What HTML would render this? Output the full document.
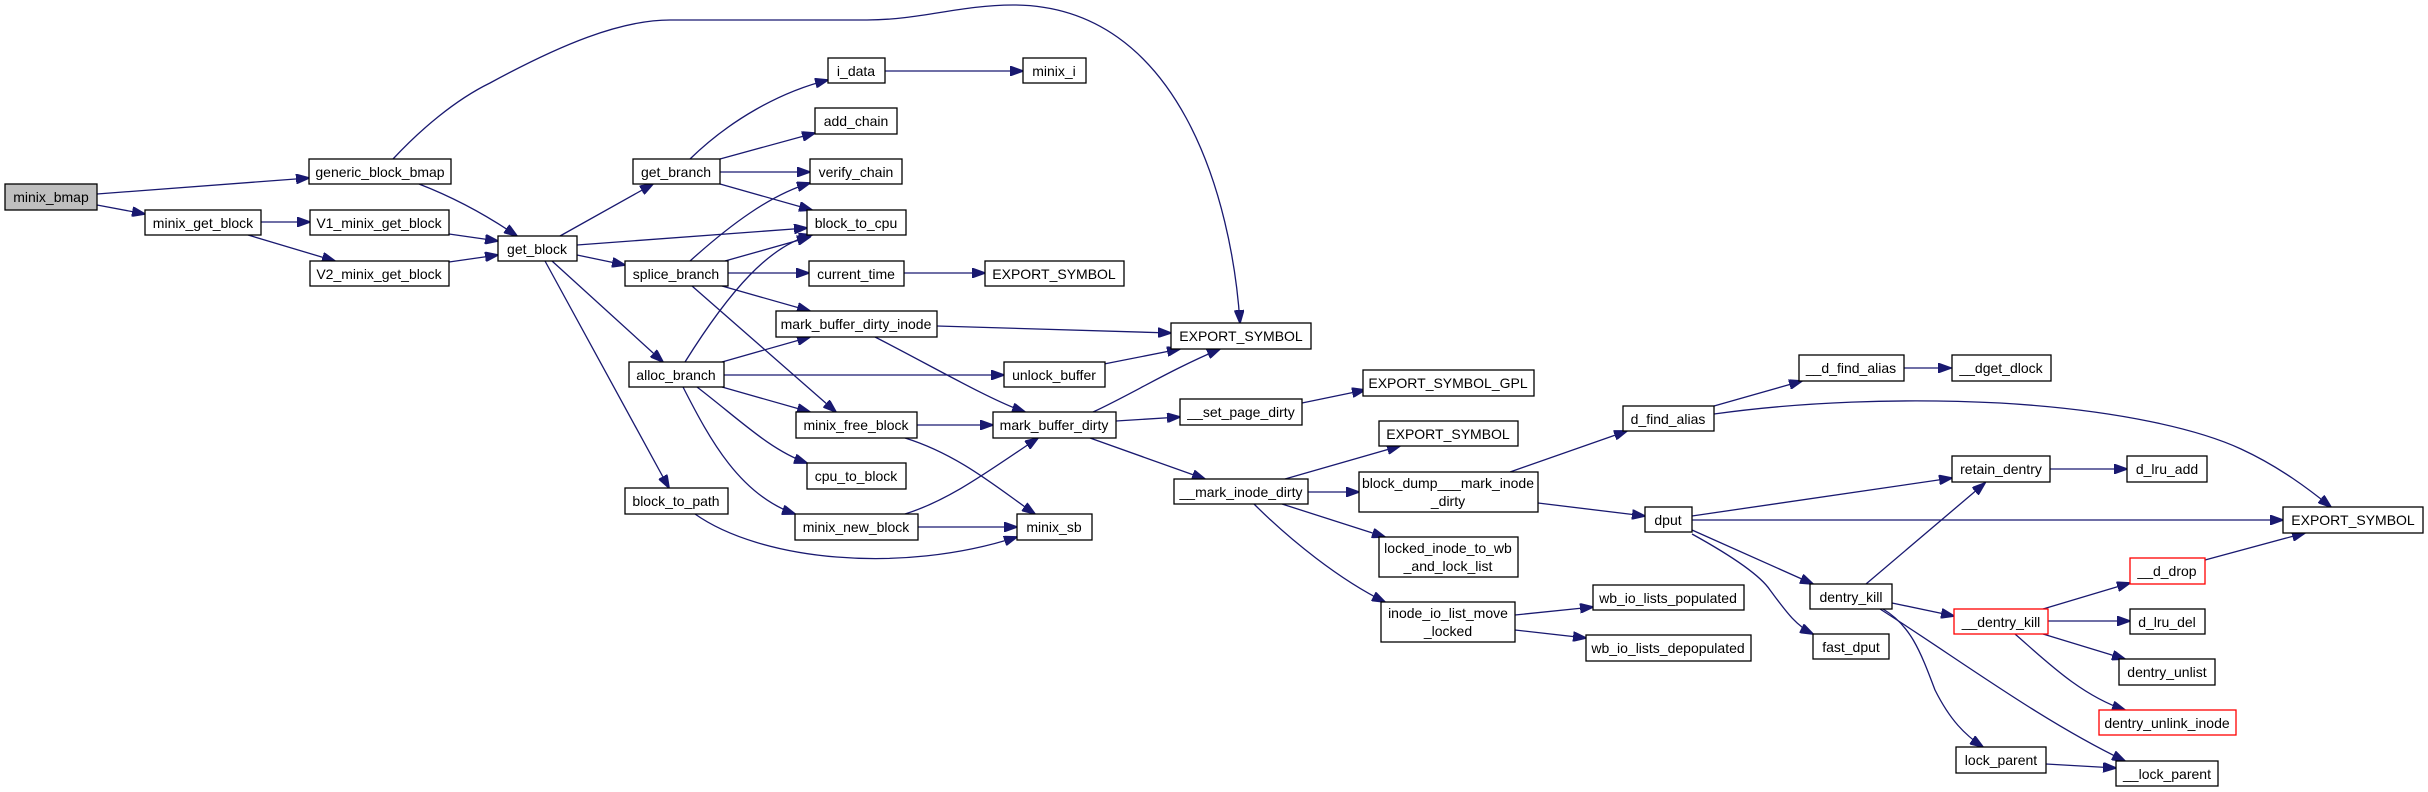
<!DOCTYPE html>
<html><head><meta charset="utf-8"><style>
html,body{margin:0;padding:0;background:#fff;}
svg{display:block;}
text{font-family:"Liberation Sans",Arial,sans-serif;font-size:14px;fill:#000;text-anchor:middle;}
.n{fill:#fff;stroke:#000;stroke-width:1.3;}
.r{fill:#fff;stroke:#ff0000;stroke-width:1.3;}
.g{fill:#bfbfbf;stroke:#000;stroke-width:1.3;}
.e{fill:none;stroke:#191970;stroke-width:1.3;marker-end:url(#ah);}
</style></head><body>
<svg width="2428" height="792" viewBox="0 0 2428 792" xmlns="http://www.w3.org/2000/svg">
<defs><marker id="ah" markerUnits="userSpaceOnUse" markerWidth="14" markerHeight="10" refX="13" refY="5" orient="auto"><path d="M0,0 L14,5 L0,10 z" fill="#191970" stroke="#191970"/></marker></defs>

<!-- edges -->
<path class="e" d="M97,194 L309,178"/>
<path class="e" d="M97,205 L145,214"/>
<path class="e" d="M393,159 C420,130 455,100 490,83 C560,45 620,20 670,20 L867,20 C920,20 960,5 1013,5 C1180,5 1232,200 1240,323"/>
<path class="e" d="M419,184 C450,196 482,212 517,236"/>
<path class="e" d="M261,222 L310,222"/>
<path class="e" d="M248,235 L335,261"/>
<path class="e" d="M449,234 L498,241"/>
<path class="e" d="M449,262 L498,255"/>
<path class="e" d="M560,236 L653,184"/>
<path class="e" d="M577,245 L807,228"/>
<path class="e" d="M577,255 L625,265"/>
<path class="e" d="M552,261 L663,362"/>
<path class="e" d="M545,261 L669,488"/>
<path class="e" d="M690,159 C730,120 780,92 828,80"/>
<path class="e" d="M720,159 L815,133"/>
<path class="e" d="M720,172 L810,172"/>
<path class="e" d="M720,184 L812,210"/>
<path class="e" d="M885,71 L1023,71"/>
<path class="e" d="M690,261 C730,225 770,195 810,183"/>
<path class="e" d="M725,261 L810,237"/>
<path class="e" d="M728,273 L809,273"/>
<path class="e" d="M722,286 L810,311"/>
<path class="e" d="M692,286 L836,412"/>
<path class="e" d="M904,273 L985,273"/>
<path class="e" d="M685,362 C730,290 770,245 812,235"/>
<path class="e" d="M722,362 L810,337"/>
<path class="e" d="M724,375 L1004,375"/>
<path class="e" d="M722,387 L810,412"/>
<path class="e" d="M697,387 C740,420 770,450 807,463"/>
<path class="e" d="M683,387 C710,440 740,495 795,514"/>
<path class="e" d="M937,326 L1171,333"/>
<path class="e" d="M875,337 C930,365 990,400 1025,412"/>
<path class="e" d="M1104,364 L1180,349"/>
<path class="e" d="M917,425 L993,425"/>
<path class="e" d="M905,438 C960,455 1000,490 1035,514"/>
<path class="e" d="M905,514 C950,500 990,470 1038,438"/>
<path class="e" d="M918,527 L1017,527"/>
<path class="e" d="M695,514 C760,560 900,575 1017,537"/>
<path class="e" d="M1093,412 C1130,395 1170,370 1220,349"/>
<path class="e" d="M1116,421 L1180,417"/>
<path class="e" d="M1090,438 L1205,479"/>
<path class="e" d="M1302,403 L1365,390"/>
<path class="e" d="M1285,479 L1400,446"/>
<path class="e" d="M1308,492 L1359,492"/>
<path class="e" d="M1282,504 L1385,537"/>
<path class="e" d="M1254,504 C1290,540 1340,580 1385,602"/>
<path class="e" d="M1510,472 L1627,431"/>
<path class="e" d="M1538,503 L1645,516"/>
<path class="e" d="M1515,615 L1593,607"/>
<path class="e" d="M1515,630 L1586,638"/>
<path class="e" d="M1714,406 L1802,381"/>
<path class="e" d="M1714,414 C1800,402 1900,398 2000,403 C2120,410 2200,430 2241,449 C2280,467 2310,490 2331,507"/>
<path class="e" d="M1903,368 L1951,368"/>
<path class="e" d="M1692,516 L1952,478"/>
<path class="e" d="M1692,520 L2283,520"/>
<path class="e" d="M1692,530 L1813,584"/>
<path class="e" d="M1692,534 C1730,555 1760,575 1770,590 C1785,610 1795,625 1813,634"/>
<path class="e" d="M2050,469 L2127,469"/>
<path class="e" d="M1866,584 L1985,483"/>
<path class="e" d="M1892,603 L1954,616"/>
<path class="e" d="M1883,609 C1910,625 1920,650 1935,690 C1950,720 1965,735 1983,747"/>
<path class="e" d="M1880,609 C1960,660 2040,720 2125,761"/>
<path class="e" d="M2043,609 L2130,583"/>
<path class="e" d="M2048,621 L2130,621"/>
<path class="e" d="M2043,634 L2125,659"/>
<path class="e" d="M2015,634 C2045,660 2080,695 2125,710"/>
<path class="e" d="M2205,560 L2305,533"/>
<path class="e" d="M2046,764 L2116,768"/>

<!-- nodes -->
<rect class="g" x="5" y="184" width="92" height="26"/><text x="51" y="202">minix_bmap</text>
<rect class="n" x="309" y="159" width="142" height="25"/><text x="380" y="177">generic_block_bmap</text>
<rect class="n" x="145" y="210" width="116" height="25"/><text x="203" y="228">minix_get_block</text>
<rect class="n" x="310" y="210" width="139" height="25"/><text x="379" y="228">V1_minix_get_block</text>
<rect class="n" x="310" y="261" width="139" height="25"/><text x="379" y="279">V2_minix_get_block</text>
<rect class="n" x="498" y="236" width="79" height="25"/><text x="537" y="254">get_block</text>
<rect class="n" x="633" y="159" width="87" height="25"/><text x="676" y="177">get_branch</text>
<rect class="n" x="625" y="261" width="103" height="25"/><text x="676" y="279">splice_branch</text>
<rect class="n" x="629" y="362" width="95" height="25"/><text x="676" y="380">alloc_branch</text>
<rect class="n" x="625" y="488" width="103" height="26"/><text x="676" y="506">block_to_path</text>
<rect class="n" x="828" y="58" width="57" height="25"/><text x="856" y="76">i_data</text>
<rect class="n" x="1023" y="58" width="63" height="25"/><text x="1054" y="76">minix_i</text>
<rect class="n" x="815" y="108" width="82" height="26"/><text x="856" y="126">add_chain</text>
<rect class="n" x="810" y="159" width="92" height="25"/><text x="856" y="177">verify_chain</text>
<rect class="n" x="807" y="210" width="99" height="25"/><text x="856" y="228">block_to_cpu</text>
<rect class="n" x="809" y="261" width="95" height="25"/><text x="856" y="279">current_time</text>
<rect class="n" x="985" y="261" width="139" height="25"/><text x="1054" y="279">EXPORT_SYMBOL</text>
<rect class="n" x="776" y="311" width="161" height="26"/><text x="856" y="329">mark_buffer_dirty_inode</text>
<rect class="n" x="1171" y="323" width="140" height="26"/><text x="1241" y="341">EXPORT_SYMBOL</text>
<rect class="n" x="1004" y="362" width="101" height="25"/><text x="1054" y="380">unlock_buffer</text>
<rect class="n" x="796" y="412" width="121" height="26"/><text x="856" y="430">minix_free_block</text>
<rect class="n" x="807" y="463" width="99" height="26"/><text x="856" y="481">cpu_to_block</text>
<rect class="n" x="795" y="514" width="123" height="26"/><text x="856" y="532">minix_new_block</text>
<rect class="n" x="993" y="412" width="123" height="26"/><text x="1054" y="430">mark_buffer_dirty</text>
<rect class="n" x="1017" y="514" width="75" height="26"/><text x="1054" y="532">minix_sb</text>
<rect class="n" x="1180" y="399" width="122" height="26"/><text x="1241" y="417">__set_page_dirty</text>
<rect class="n" x="1174" y="479" width="134" height="25"/><text x="1241" y="497">__mark_inode_dirty</text>
<rect class="n" x="1363" y="370" width="171" height="26"/><text x="1448" y="388">EXPORT_SYMBOL_GPL</text>
<rect class="n" x="1379" y="421" width="139" height="25"/><text x="1448" y="439">EXPORT_SYMBOL</text>
<rect class="n" x="1359" y="472" width="179" height="40"/><text x="1448" y="488">block_dump___mark_inode</text><text x="1448" y="506">_dirty</text>
<rect class="n" x="1379" y="537" width="139" height="40"/><text x="1448" y="553">locked_inode_to_wb</text><text x="1448" y="571">_and_lock_list</text>
<rect class="n" x="1381" y="602" width="134" height="40"/><text x="1448" y="618">inode_io_list_move</text><text x="1448" y="636">_locked</text>
<rect class="n" x="1593" y="585" width="151" height="25"/><text x="1668" y="603">wb_io_lists_populated</text>
<rect class="n" x="1586" y="635" width="165" height="26"/><text x="1668" y="653">wb_io_lists_depopulated</text>
<rect class="n" x="1623" y="406" width="91" height="25"/><text x="1668" y="424">d_find_alias</text>
<rect class="n" x="1799" y="355" width="105" height="26"/><text x="1851" y="373">__d_find_alias</text>
<rect class="n" x="1952" y="355" width="99" height="26"/><text x="2001" y="373">__dget_dlock</text>
<rect class="n" x="1645" y="507" width="47" height="25"/><text x="1668" y="525">dput</text>
<rect class="n" x="1952" y="456" width="98" height="26"/><text x="2001" y="474">retain_dentry</text>
<rect class="n" x="2127" y="456" width="80" height="26"/><text x="2167" y="474">d_lru_add</text>
<rect class="n" x="2283" y="507" width="140" height="26"/><text x="2353" y="525">EXPORT_SYMBOL</text>
<rect class="n" x="1810" y="584" width="82" height="25"/><text x="1851" y="602">dentry_kill</text>
<rect class="n" x="1813" y="634" width="76" height="25"/><text x="1851" y="652">fast_dput</text>
<rect class="r" x="2130" y="558" width="75" height="26"/><text x="2167" y="576">__d_drop</text>
<rect class="r" x="1954" y="609" width="94" height="25"/><text x="2001" y="627">__dentry_kill</text>
<rect class="n" x="2130" y="609" width="75" height="25"/><text x="2167" y="627">d_lru_del</text>
<rect class="n" x="2119" y="659" width="96" height="26"/><text x="2167" y="677">dentry_unlist</text>
<rect class="r" x="2099" y="710" width="137" height="25"/><text x="2167" y="728">dentry_unlink_inode</text>
<rect class="n" x="1956" y="747" width="90" height="26"/><text x="2001" y="765">lock_parent</text>
<rect class="n" x="2116" y="761" width="102" height="25"/><text x="2167" y="779">__lock_parent</text>
</svg>
</body></html>
